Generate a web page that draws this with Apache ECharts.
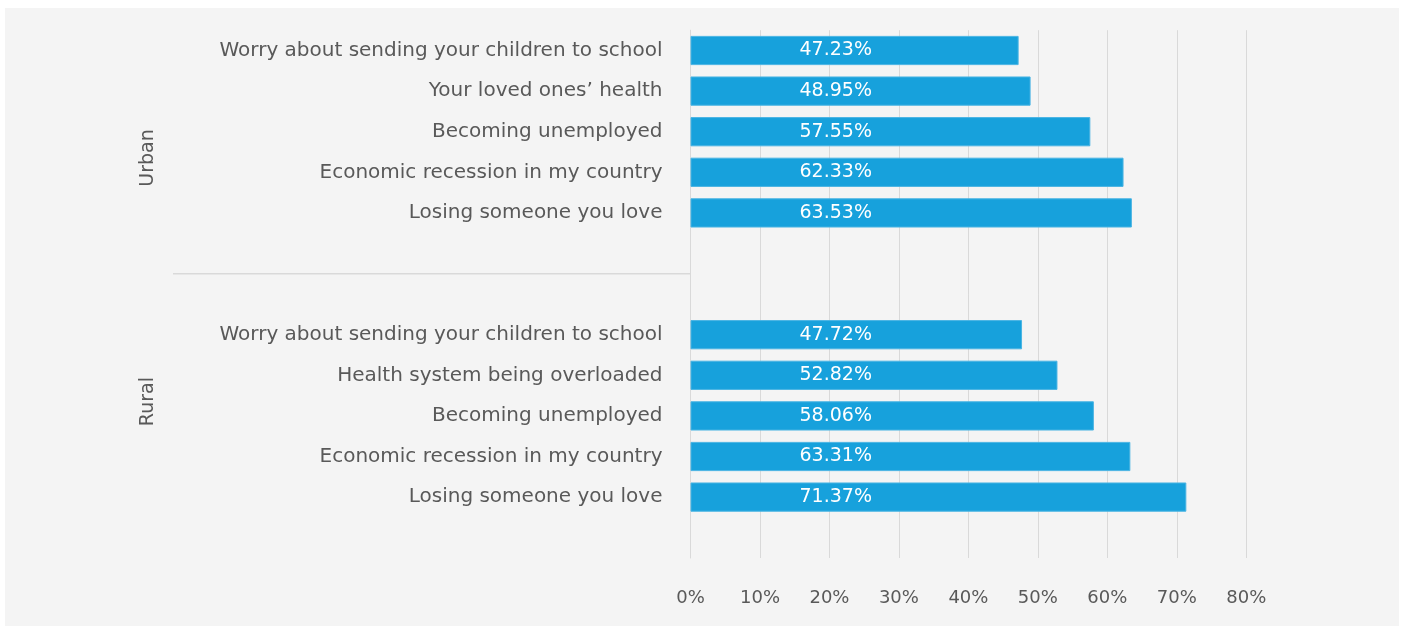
<!DOCTYPE html>
<html>
<head>
<meta charset="utf-8">
<script src="https://cdn.jsdelivr.net/npm/echarts@6/dist/echarts.min.js"></script>
<style>
  html, body { margin: 0; padding: 0; background: #ffffff; }
  #chart { width: 1405px; height: 628px; }
</style>
</head>
<body>
<div id="chart"></div>
<script>
// Concerns by area, share of respondents
const urbanLabels = [
  'Worry about sending your children to school',
  'Your loved ones\u2019 health',
  'Becoming unemployed',
  'Economic recession in my country',
  'Losing someone you love'
];
const urbanValues = [47.23, 48.95, 57.55, 62.33, 63.53];

const ruralLabels = [
  'Worry about sending your children to school',
  'Health system being overloaded',
  'Becoming unemployed',
  'Economic recession in my country',
  'Losing someone you love'
];
const ruralValues = [47.72, 52.82, 58.06, 63.31, 71.37];

const groupNames = ['Urban', 'Rural'];
const xTicks = [0, 10, 20, 30, 40, 50, 60, 70, 80];

// Each group takes six rows: five answers and one empty spacer row
const categories = [...urbanLabels, '', '', ...ruralLabels, ''];
const values = [...urbanValues, null, null, ...ruralValues, null];

const FONT = 'DejaVu Sans';
const TEXT = '#595959';
const GRID = '#d9d9d9';

const chart = echarts.init(document.getElementById('chart'), null, { renderer: 'canvas' });

chart.setOption({
  animation: false,
  backgroundColor: '#ffffff',
  grid: { left: 690.5, right: 158.7, top: 30.2, bottom: 70, containLabel: false },
  xAxis: {
    type: 'value',
    min: xTicks[0],
    max: xTicks[xTicks.length - 1],
    interval: 10,
    axisLine: { show: false },
    axisTick: { show: false },
    splitLine: { show: true, lineStyle: { color: GRID, width: 1 } },
    axisLabel: {
      color: TEXT, fontFamily: FONT, fontSize: 18, margin: 31,
      formatter: v => v + '%'
    }
  },
  yAxis: {
    type: 'category',
    inverse: true,
    data: categories,
    axisLine: { show: true, lineStyle: { color: GRID, width: 1 } },
    axisTick: { show: false },
    axisLabel: { color: TEXT, fontFamily: FONT, fontSize: 20, margin: 28, interval: 0, padding: [2, 0, 0, 0] }
  },
  series: [{
    type: 'bar',
    data: values,
    barCategoryGap: '28%',
    itemStyle: { color: '#17a1dc', borderColor: '#49b4e3', borderWidth: 1 },
    label: {
      show: true,
      position: 'insideLeft',
      distance: 109,
      color: '#ffffff',
      fontFamily: FONT,
      fontSize: 19,
      formatter: p => p.value.toFixed(2) + '%'
    }
  }]
});

// Panel, group divider and rotated group names placed from the axis scale
function drawDecor() {
  const y = i => chart.convertToPixel({ yAxisIndex: 0 }, i);
  const x0 = chart.convertToPixel({ xAxisIndex: 0 }, 0);
  const dividerY = (y(5) + y(6)) / 2;
  const urbanMid = (y(0) + y(5)) / 2 + 6;
  const ruralMid = (y(6) + y(11)) / 2 + 6;
  chart.setOption({
    graphic: [
      {
        type: 'rect', z: -10, silent: true,
        shape: { x: 5, y: 8, width: 1394, height: 618 },
        style: { fill: '#f4f4f4' }
      },
      {
        type: 'line', silent: true,
        shape: { x1: 173, y1: dividerY, x2: x0, y2: dividerY },
        style: { stroke: GRID, lineWidth: 1.5 }
      },
      {
        type: 'text', silent: true, x: 148, y: urbanMid, rotation: Math.PI / 2,
        style: { text: groupNames[0], fill: TEXT, font: '19px "' + FONT + '"', align: 'center', verticalAlign: 'middle' }
      },
      {
        type: 'text', silent: true, x: 148, y: ruralMid, rotation: Math.PI / 2,
        style: { text: groupNames[1], fill: TEXT, font: '19px "' + FONT + '"', align: 'center', verticalAlign: 'middle' }
      }
    ]
  });
}
drawDecor();
</script>
</body>
</html>
